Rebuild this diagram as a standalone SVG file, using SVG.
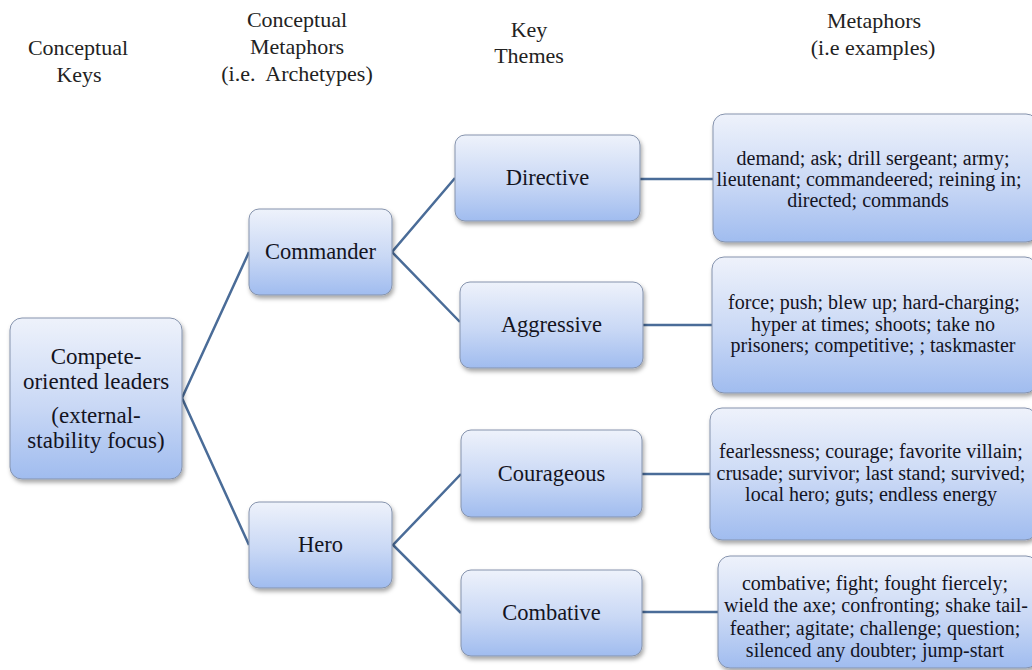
<svg xmlns="http://www.w3.org/2000/svg" width="1032" height="670" viewBox="0 0 1032 670">
  <defs>
    <linearGradient id="boxFill" x1="0" y1="0" x2="0" y2="1">
      <stop offset="0" stop-color="#eef2fb"/>
      <stop offset="0.55" stop-color="#c9d8f5"/>
      <stop offset="1" stop-color="#a0bcef"/>
    </linearGradient>
    <filter id="shadow" x="-10%" y="-10%" width="125%" height="130%">
      <feDropShadow dx="1.5" dy="3" stdDeviation="2" flood-color="#000" flood-opacity="0.35"/>
    </filter>
  </defs>
  <style>
    .box { fill: url(#boxFill); stroke: #8593ad; stroke-width: 1; filter: url(#shadow); }
    .lbl { font-family: "Liberation Serif", "Times New Roman", serif; font-size: 22.5px; fill: #14141f; text-anchor: middle; }
    .root { font-size: 23px; }
    .ex { font-family: "Liberation Serif", "Times New Roman", serif; font-size: 20px; fill: #14141f; text-anchor: middle; }
    .hdr { font-family: "Liberation Serif", "Times New Roman", serif; font-size: 22px; fill: #222222; text-anchor: middle; }
    .conn { fill: none; stroke: #4a6c98; stroke-width: 2.5; stroke-linejoin: miter; }
  </style>

  <rect width="1032" height="670" fill="#ffffff"/>

  <!-- column headings -->
  <g id="headings">
    <text class="hdr" x="78" y="55">Conceptual</text>
    <text class="hdr" x="79" y="82">Keys</text>
    <text class="hdr" x="297" y="27">Conceptual</text>
    <text class="hdr" x="297" y="54">Metaphors</text>
    <text class="hdr" x="297" y="81" xml:space="preserve">(i.e.  Archetypes)</text>
    <text class="hdr" x="529" y="37">Key</text>
    <text class="hdr" x="529" y="63">Themes</text>
    <text class="hdr" x="874" y="28">Metaphors</text>
    <text class="hdr" x="873" y="55">(i.e examples)</text>
  </g>

  <!-- connectors -->
  <g id="connectors">
    <path class="conn" d="M249,252 L182,398 L249,545"/>
    <path class="conn" d="M455,178 L392,252 L460,322"/>
    <path class="conn" d="M461,474 L393,545 L461,613"/>
    <path class="conn" d="M640,179 L713,179"/>
    <path class="conn" d="M643,325 L712,325"/>
    <path class="conn" d="M642,474 L710,474"/>
    <path class="conn" d="M642,612 L718,612"/>
  </g>

  <!-- conceptual key -->
  <g id="node-compete">
    <rect class="box" x="10" y="318" width="172" height="161" rx="12"/>
    <text class="lbl root" x="96" y="364">Compete-</text>
    <text class="lbl root" x="96" y="389">oriented leaders</text>
    <text class="lbl root" x="96" y="423">(external-</text>
    <text class="lbl root" x="96" y="448">stability focus)</text>
  </g>

  <!-- archetypes -->
  <g id="node-commander">
    <rect class="box" x="249" y="209" width="143" height="86" rx="10"/>
    <text class="lbl" x="320.5" y="259">Commander</text>
  </g>
  <g id="node-hero">
    <rect class="box" x="249" y="502" width="143" height="86" rx="10"/>
    <text class="lbl" x="320.5" y="552">Hero</text>
  </g>

  <!-- key themes -->
  <g id="node-directive">
    <rect class="box" x="455" y="135" width="185" height="86" rx="10"/>
    <text class="lbl" x="547.5" y="185">Directive</text>
  </g>
  <g id="node-aggressive">
    <rect class="box" x="460" y="282" width="183" height="86" rx="10"/>
    <text class="lbl" x="551.5" y="332">Aggressive</text>
  </g>
  <g id="node-courageous">
    <rect class="box" x="461" y="430" width="181" height="87" rx="10"/>
    <text class="lbl" x="551.5" y="481">Courageous</text>
  </g>
  <g id="node-combative">
    <rect class="box" x="461" y="570" width="181" height="86" rx="10"/>
    <text class="lbl" x="551.5" y="620">Combative</text>
  </g>

  <!-- example metaphors -->
  <g id="node-ex-directive">
    <rect class="box" x="713" y="114" width="325" height="128" rx="12"/>
    <text class="ex" x="873" y="165">demand; ask; drill sergeant; army;</text>
    <text class="ex" x="869" y="186">lieutenant; commandeered; reining in;</text>
    <text class="ex" x="868" y="207">directed; commands</text>
  </g>
  <g id="node-ex-aggressive">
    <rect class="box" x="712" y="257" width="325" height="136" rx="12"/>
    <text class="ex" x="874" y="309">force; push; blew up; hard-charging;</text>
    <text class="ex" x="873" y="331">hyper at times; shoots; take no</text>
    <text class="ex" x="873" y="352">prisoners; competitive; ; taskmaster</text>
  </g>
  <g id="node-ex-courageous">
    <rect class="box" x="710" y="408" width="327" height="132" rx="12"/>
    <text class="ex" x="871" y="458">fearlessness; courage; favorite villain;</text>
    <text class="ex" x="871" y="480">crusade; survivor; last stand; survived;</text>
    <text class="ex" x="871" y="501">local hero; guts; endless energy</text>
  </g>
  <g id="node-ex-combative">
    <rect class="box" x="718" y="556" width="320" height="112" rx="12"/>
    <text class="ex" x="875" y="590">combative; fight; fought fiercely;</text>
    <text class="ex" x="876" y="612">wield the axe; confronting; shake tail-</text>
    <text class="ex" x="875" y="635">feather; agitate; challenge; question;</text>
    <text class="ex" x="875" y="657">silenced any doubter; jump-start</text>
  </g>
</svg>
